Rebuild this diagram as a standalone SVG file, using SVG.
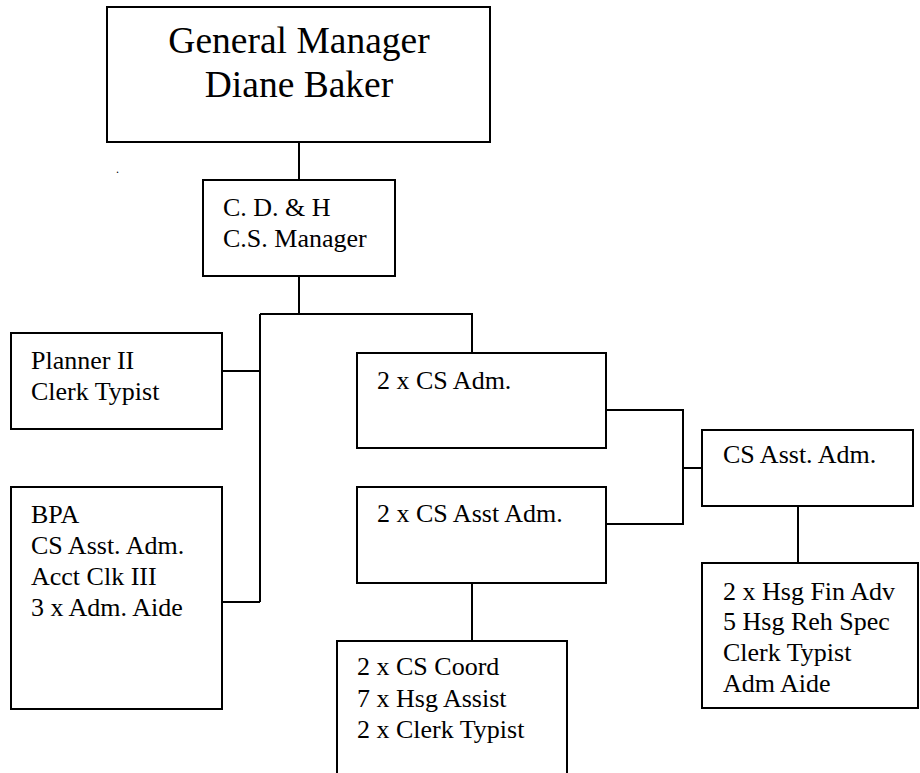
<svg xmlns="http://www.w3.org/2000/svg" width="920" height="773" viewBox="0 0 920 773">
<style>
.box{fill:#fff;stroke:#000;stroke-width:2}
.ln{fill:none;stroke:#000;stroke-width:2}
.t{font-size:26px}
.big{font-size:37.5px}
</style>
<rect width="920" height="773" fill="#fff"/>
<g id="connectors">
<path class="ln" d="M299 142V180"/>
<path class="ln" d="M299 276V314M260 314H472V353M260 314V602M222 371H260M222 602H260"/>
<path class="ln" d="M606 410H683V524H606M683 468H702"/>
<path class="ln" d="M472 583V641"/>
<path class="ln" d="M798 506V563"/>
</g>
<g font-family="'Liberation Serif', 'DejaVu Serif', 'Times New Roman', serif" fill="#000">
<g id="gm">
<rect class="box" x="107" y="7" width="383" height="135"/>
<text class="big" x="299" y="53" text-anchor="middle">General Manager</text>
<text class="big" x="299" y="97" text-anchor="middle">Diane Baker</text>
</g>
<text x="116" y="173" font-size="12">.</text>
<g id="cdh">
<rect class="box" x="203" y="180" width="192" height="96"/>
<text class="t" x="223" y="216">C. D. &amp; H</text>
<text class="t" x="223" y="247">C.S. Manager</text>
</g>
<g id="planner">
<rect class="box" x="11" y="333" width="211" height="96"/>
<text class="t" x="31" y="369">Planner II</text>
<text class="t" x="31" y="400">Clerk Typist</text>
</g>
<g id="bpa">
<rect class="box" x="11" y="487" width="211" height="222"/>
<text class="t" x="31" y="523">BPA</text>
<text class="t" x="31" y="554">CS Asst. Adm.</text>
<text class="t" x="31" y="585">Acct Clk III</text>
<text class="t" x="31" y="616">3 x Adm. Aide</text>
</g>
<g id="csadm">
<rect class="box" x="357" y="353" width="249" height="95"/>
<text class="t" x="377" y="389">2 x CS Adm.</text>
</g>
<g id="csasstadm2">
<rect class="box" x="357" y="487" width="249" height="96"/>
<text class="t" x="377" y="522">2 x CS Asst Adm.</text>
</g>
<g id="coord">
<rect class="box" x="337" y="641" width="230" height="160"/>
<text class="t" x="357" y="675">2 x CS Coord</text>
<text class="t" x="357" y="707">7 x Hsg Assist</text>
<text class="t" x="357" y="738">2 x Clerk Typist</text>
</g>
<g id="csasstadm">
<rect class="box" x="702" y="430" width="211" height="76"/>
<text class="t" x="723" y="463">CS Asst. Adm.</text>
</g>
<g id="hsg">
<rect class="box" x="702" y="563" width="216" height="145"/>
<text class="t" x="723" y="600">2 x Hsg Fin Adv</text>
<text class="t" x="723" y="630">5 Hsg Reh Spec</text>
<text class="t" x="723" y="661">Clerk Typist</text>
<text class="t" x="723" y="692">Adm Aide</text>
</g>
</g>
</svg>
